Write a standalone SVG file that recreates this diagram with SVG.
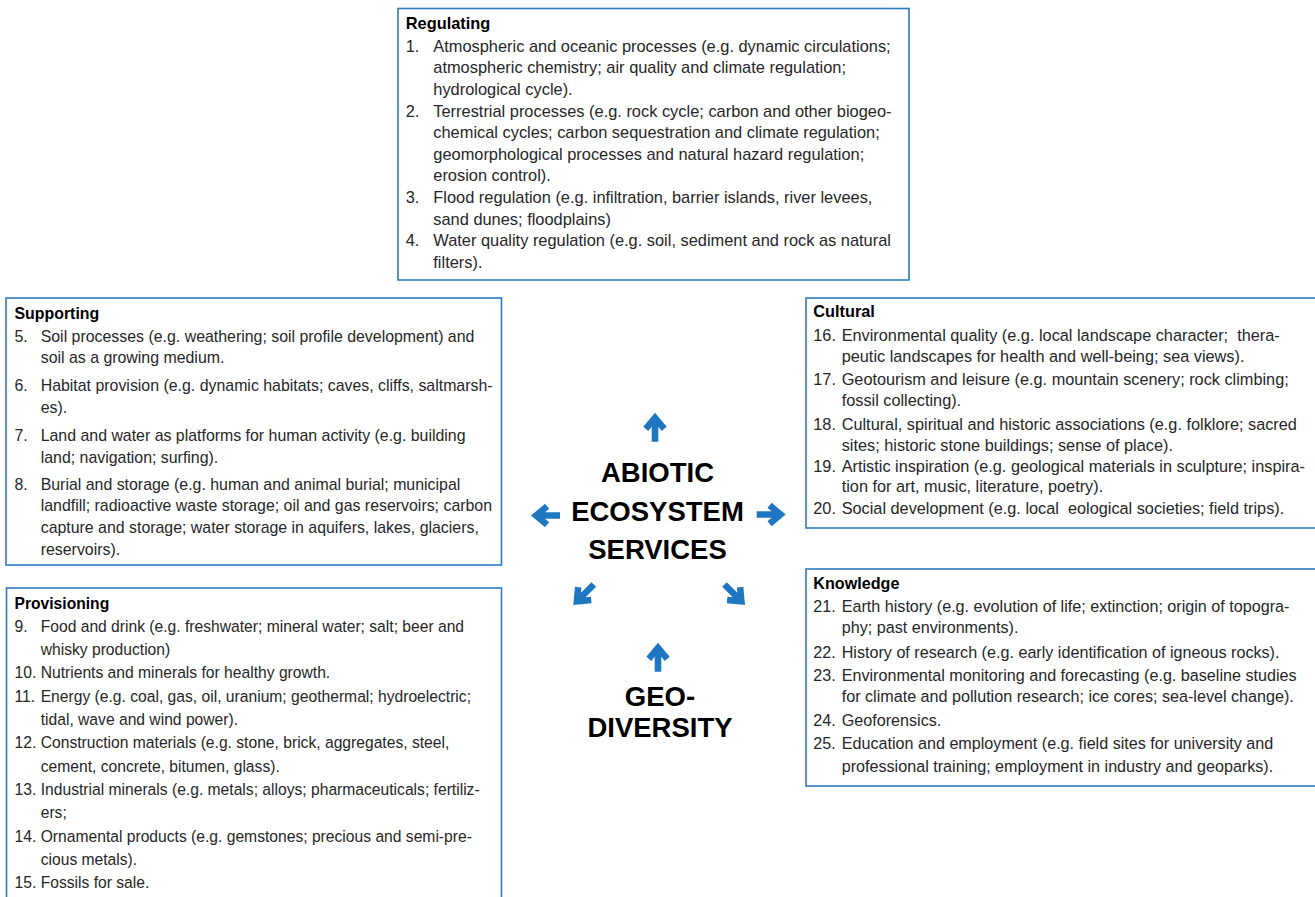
<svg xmlns="http://www.w3.org/2000/svg" xmlns:xlink="http://www.w3.org/1999/xlink" width="1315" height="897" viewBox="0 0 1315 897">
<style>
.box{fill:#fff;stroke:#2a7ac4;stroke-width:1.6}
text{font-family:"Liberation Sans",Arial,Helvetica,sans-serif;fill:#262626}
#regulating text{font-size:16.4px}
#supporting text{font-size:15.9px}
#provisioning text{font-size:15.65px}
#cultural text{font-size:16.3px}
#knowledge text{font-size:16.15px}
text.h{font-weight:bold;fill:#000}
text.c{font-weight:bold;font-size:27.5px;fill:#000;text-anchor:middle}
.arr{fill:#1f77c2}
</style>
<defs>
<path id="arrow" d="M0,0 L11.7,14 L6.7,18.2 L3.3,14.1 L3.3,29 L-3.3,29 L-3.3,14.1 L-6.7,18.2 L-11.7,14 Z"/>
</defs>
<rect width="1315" height="897" fill="#fff"/>

<g id="regulating">
<rect class="box" x="398" y="8.5" width="511" height="271.5"/>
<text class="h" x="405.7" y="29.3">Regulating</text>
<text x="405.7" y="51.5">1.</text><text x="433.3" y="51.5">Atmospheric and oceanic processes (e.g. dynamic circulations;</text>
<text x="433.3" y="73.2">atmospheric chemistry; air quality and climate regulation;</text>
<text x="433.3" y="94.8">hydrological cycle).</text>
<text x="405.7" y="116.5">2.</text><text x="433.3" y="116.5">Terrestrial processes (e.g. rock cycle; carbon and other biogeo-</text>
<text x="433.3" y="138.1">chemical cycles; carbon sequestration and climate regulation;</text>
<text x="433.3" y="159.8">geomorphological processes and natural hazard regulation;</text>
<text x="433.3" y="181.4">erosion control).</text>
<text x="405.7" y="203.1">3.</text><text x="433.3" y="203.1">Flood regulation (e.g. infiltration, barrier islands, river levees,</text>
<text x="433.3" y="224.7">sand dunes; floodplains)</text>
<text x="405.7" y="246.4">4.</text><text x="433.3" y="246.4">Water quality regulation (e.g. soil, sediment and rock as natural</text>
<text x="433.3" y="268">filters).</text>
</g>

<g id="supporting">
<rect class="box" x="6" y="298" width="495.5" height="267"/>
<text class="h" x="14.5" y="319">Supporting</text>
<text x="14.5" y="341.7">5.</text><text x="40.7" y="341.7">Soil processes (e.g. weathering; soil profile development) and</text>
<text x="40.7" y="363.4">soil as a growing medium.</text>
<text x="14.5" y="391">6.</text><text x="40.7" y="391">Habitat provision (e.g. dynamic habitats; caves, cliffs, saltmarsh-</text>
<text x="40.7" y="412.7">es).</text>
<text x="14.5" y="441.2">7.</text><text x="40.7" y="441.2">Land and water as platforms for human activity (e.g. building</text>
<text x="40.7" y="462.9">land; navigation; surfing).</text>
<text x="14.5" y="489.5">8.</text><text x="40.7" y="489.5">Burial and storage (e.g. human and animal burial; municipal</text>
<text x="40.7" y="511.2">landfill; radioactive waste storage; oil and gas reservoirs; carbon</text>
<text x="40.7" y="532.9">capture and storage; water storage in aquifers, lakes, glaciers,</text>
<text x="40.7" y="554.6">reservoirs).</text>
</g>

<g id="provisioning">
<rect class="box" x="6.5" y="588" width="495" height="330"/>
<text class="h" x="14.5" y="609.3">Provisioning</text>
<text x="14.5" y="631.7">9.</text><text x="40.7" y="631.7">Food and drink (e.g. freshwater; mineral water; salt; beer and</text>
<text x="40.7" y="655">whisky production)</text>
<text x="14.5" y="678.3">10.</text><text x="40.7" y="678.3">Nutrients and minerals for healthy growth.</text>
<text x="14.5" y="701.7">11.</text><text x="40.7" y="701.7">Energy (e.g. coal, gas, oil, uranium; geothermal; hydroelectric;</text>
<text x="40.7" y="725">tidal, wave and wind power).</text>
<text x="14.5" y="748.3">12.</text><text x="40.7" y="748.3">Construction materials (e.g. stone, brick, aggregates, steel,</text>
<text x="40.7" y="771.7">cement, concrete, bitumen, glass).</text>
<text x="14.5" y="795">13.</text><text x="40.7" y="795">Industrial minerals (e.g. metals; alloys; pharmaceuticals; fertiliz-</text>
<text x="40.7" y="818.3">ers;</text>
<text x="14.5" y="841.7">14.</text><text x="40.7" y="841.7">Ornamental products (e.g. gemstones; precious and semi-pre-</text>
<text x="40.7" y="865">cious metals).</text>
<text x="14.5" y="888.3">15.</text><text x="40.7" y="888.3">Fossils for sale.</text>
</g>

<g id="cultural">
<rect class="box" x="806" y="298" width="530" height="230"/>
<text class="h" x="813.3" y="317.3">Cultural</text>
<text x="813.3" y="340.7">16.</text><text x="841.7" y="340.7">Environmental quality (e.g. local landscape character;&#160; thera-</text>
<text x="841.7" y="361.7">peutic landscapes for health and well-being; sea views).</text>
<text x="813.3" y="385.2">17.</text><text x="841.7" y="385.2">Geotourism and leisure (e.g. mountain scenery; rock climbing;</text>
<text x="841.7" y="406.2">fossil collecting).</text>
<text x="813.3" y="429.5">18.</text><text x="841.7" y="429.5">Cultural, spiritual and historic associations (e.g. folklore; sacred</text>
<text x="841.7" y="450.5">sites; historic stone buildings; sense of place).</text>
<text x="813.3" y="471.5">19.</text><text x="841.7" y="471.5">Artistic inspiration (e.g. geological materials in sculpture; inspira-</text>
<text x="841.7" y="492">tion for art, music, literature, poetry).</text>
<text x="813.3" y="514.3">20.</text><text x="841.7" y="514.3">Social development (e.g. local&#160; eological societies; field trips).</text>
</g>

<g id="knowledge">
<rect class="box" x="806" y="569" width="530" height="217"/>
<text class="h" x="813.3" y="589.3">Knowledge</text>
<text x="813.3" y="611.7">21.</text><text x="841.7" y="611.7">Earth history (e.g. evolution of life; extinction; origin of topogra-</text>
<text x="841.7" y="633.2">phy; past environments).</text>
<text x="813.3" y="658.3">22.</text><text x="841.7" y="658.3">History of research (e.g. early identification of igneous rocks).</text>
<text x="813.3" y="680.7">23.</text><text x="841.7" y="680.7">Environmental monitoring and forecasting (e.g. baseline studies</text>
<text x="841.7" y="701.7">for climate and pollution research; ice cores; sea-level change).</text>
<text x="813.3" y="725.5">24.</text><text x="841.7" y="725.5">Geoforensics.</text>
<text x="813.3" y="748.5">25.</text><text x="841.7" y="748.5">Education and employment (e.g. field sites for university and</text>
<text x="841.7" y="771.5">professional training; employment in industry and geoparks).</text>
</g>

<g id="abiotic-ecosystem-services">
<text class="c" x="657.5" y="482.3">ABIOTIC</text>
<text class="c" x="657.5" y="520.7">ECOSYSTEM</text>
<text class="c" x="657.5" y="559">SERVICES</text>
</g>

<g id="geodiversity">
<text class="c" x="660" y="706">GEO-</text>
<text class="c" x="660" y="736.5">DIVERSITY</text>
</g>

<g id="connectors" class="arr">
<use xlink:href="#arrow" href="#arrow" transform="translate(655,412.7)"/>
<use xlink:href="#arrow" href="#arrow" transform="translate(531,515.5) rotate(-90)"/>
<use xlink:href="#arrow" href="#arrow" transform="translate(785.7,514.5) rotate(90)"/>
<use xlink:href="#arrow" href="#arrow" transform="translate(573.3,605) rotate(-135)"/>
<use xlink:href="#arrow" href="#arrow" transform="translate(745,605) rotate(135)"/>
<use xlink:href="#arrow" href="#arrow" transform="translate(658,642.7)"/>
</g>
</svg>
